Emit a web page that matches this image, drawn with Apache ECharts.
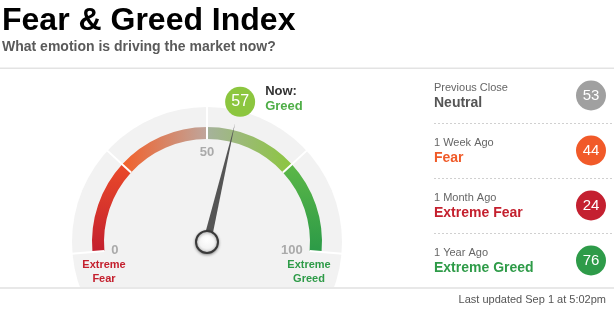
<!DOCTYPE html>
<html><head><meta charset="utf-8">
<script src="https://cdn.jsdelivr.net/npm/echarts@6/dist/echarts.min.js"></script>
<style>html,body{margin:0;padding:0;background:#fff}#c{width:614px;height:309px}</style>
</head><body><div id="c"></div>
<script>
// ---- data ----
const nowValue = 57;
const nowRating = 'Greed';
const gaugeTicks = [0, 50, 100];
const histPeriods = ['Previous Close', '1 Week Ago', '1 Month Ago', '1 Year Ago'];
const histValues = [53, 44, 24, 76];
const histRatings = ['Neutral', 'Fear', 'Extreme Fear', 'Extreme Greed'];
const titleText = 'Fear & Greed Index';
const subtitleText = 'What emotion is driving the market now?';
const updatedText = 'Last updated Sep 1 at 5:02pm';

// ---- styles ----
const FONT = '"Liberation Sans", Arial, Helvetica, sans-serif';
const ratingColors = {'Extreme Fear':'#c4202e','Fear':'#f05a28','Neutral':'#555555','Greed':'#4fae47','Extreme Greed':'#2e9b48'};
const bubbleColors = {'Extreme Fear':'#c42030','Fear':'#f15a29','Neutral':'#a0a0a0','Greed':'#8cc63f','Extreme Greed':'#2e9b49'};
const richKeys = {'Extreme Fear':'xf','Fear':'f','Neutral':'n','Greed':'g','Extreme Greed':'xg'};
const CX = 207, CY = 242;

function lg(x, y, x2, y2, c0, c1) {
  return {type:'linear', x:x, y:y, x2:x2, y2:y2, colorStops:[{offset:0,color:c0},{offset:1,color:c1}]};
}

const labelRich = {a:{fontSize:11, color:'#666', fontFamily:FONT, lineHeight:15}};
Object.keys(richKeys).forEach(k => {
  labelRich[richKeys[k]] = {fontSize:14, fontWeight:'bold', color:ratingColors[k], fontFamily:FONT, lineHeight:16};
});

const chart = echarts.init(document.getElementById('c'));
chart.setOption({
  animation:false,
  backgroundColor:'#fff',
  polar:{center:[CX, CY], radius:144},
  angleAxis:{type:'value', min:0, max:100, startAngle:185, endAngle:-5, show:false},
  radiusAxis:{type:'value', min:0, max:1, show:false},
  grid:{left:434, right:0, top:68, bottom:21},
  xAxis:{type:'value', min:0, max:1, show:false},
  yAxis:{
    type:'category', inverse:true, data:histPeriods,
    axisLine:{show:false}, axisTick:{show:false},
    splitLine:{show:true, interval:0, lineStyle:{color:'#d0d0d0', type:[2,2], width:1}},
    axisLabel:{
      inside:true, margin:0, interval:0,
      formatter:(v, i) => '{a|' + v + '}\n{' + richKeys[histRatings[i]] + '|' + histRatings[i] + '}',
      rich:labelRich
    }
  },
  series:[
    {
      type:'pie', center:[CX, CY], radius:[0, 135], silent:true, z:1,
      label:{show:false}, labelLine:{show:false},
      itemStyle:{color:'#f2f2f2'},
      data:[{value:1}]
    },
    {
      type:'gauge', center:[CX, CY], radius:115, startAngle:185, endAngle:-5,
      min:0, max:100, splitNumber:4, z:3,
      axisLine:{lineStyle:{width:12, color:[
        [0.25, lg(0,1,0,0,'#c31f2e','#ea4a2a')],
        [0.5,  lg(0,0,1,0,'#f2602a','#bfa69c')],
        [0.75, lg(0,0,1,0,'#a6b29c','#8cc63f')],
        [1,    lg(0,0,0,1,'#5cb748','#2b9a47')]
      ]}},
      splitLine:{show:true, distance:-33, length:33, lineStyle:{color:'#ffffff', width:2}},
      axisTick:{show:false},
      axisLabel:{
        show:true, distance:19, color:'#aaaaaa', fontSize:13, fontWeight:'bold', fontFamily:FONT,
        formatter:v => gaugeTicks.indexOf(v) >= 0 ? String(v) : ''
      },
      pointer:{show:true, length:122, width:4, itemStyle:{color:'#555555'}},
      anchor:{show:true, showAbove:true, size:22, itemStyle:{
        color:{type:'radial', x:0.5, y:0.4, r:0.6, colorStops:[{offset:0,color:'#ffffff'},{offset:0.6,color:'#f4f4f4'},{offset:1,color:'#c8c8c8'}]},
        borderColor:'#3a3a3a', borderWidth:2,
        shadowBlur:3, shadowColor:'rgba(0,0,0,0.35)', shadowOffsetY:1
      }},
      title:{show:false}, detail:{show:false},
      data:[{value:nowValue}]
    },
    {
      type:'scatter', coordinateSystem:'polar', symbolSize:30, z:5,
      itemStyle:{color:bubbleColors[nowRating], opacity:1},
      label:{show:true, position:'inside', formatter:p => String(p.value[1]), color:'#fff', fontSize:16, fontFamily:FONT},
      data:[[1, nowValue]]
    },
    {
      type:'scatter', coordinateSystem:'polar', symbolSize:30, z:5,
      itemStyle:{color:'rgba(0,0,0,0)', opacity:1},
      label:{show:true, position:'right', distance:10, offset:[0,-3],
        formatter:'{a|Now:}\n{b|' + nowRating + '}',
        rich:{
          a:{fontSize:13, fontWeight:'bold', color:'#333', fontFamily:FONT, lineHeight:15},
          b:{fontSize:13, fontWeight:'bold', color:ratingColors[nowRating], fontFamily:FONT, lineHeight:15}
        }},
      data:[[1, nowValue]]
    },
    {
      type:'scatter', symbolSize:30, symbolOffset:[-23, 0], clip:false, z:5,
      itemStyle:{opacity:1},
      data:histValues.map((v, i) => ({value:[1, histPeriods[i], v], itemStyle:{color:bubbleColors[histRatings[i]], opacity:1}})),
      label:{show:true, position:'inside', formatter:p => String(p.value[2]), color:'#fff', fontSize:15, fontFamily:FONT}
    }
  ],
  graphic:[
    {type:'rect', z:100, shape:{x:0, y:289, width:614, height:20}, style:{fill:'#ffffff'}},
    {type:'rect', z:101, shape:{x:0, y:287, width:614, height:2}, style:{fill:'#e8e8e8'}},
    {type:'rect', z:101, shape:{x:0, y:67.5, width:614, height:1.5}, style:{fill:'#e3e3e3'}},
    {type:'text', z:101, style:{x:2, y:21, text:titleText, font:'bold 32px ' + FONT, fill:'#000', verticalAlign:'middle'}},
    {type:'text', z:101, style:{x:2, y:47, text:subtitleText, font:'bold 14px ' + FONT, fill:'#5a5a5a', verticalAlign:'middle'}},
    {type:'text', z:101, style:{x:104, y:272, text:'Extreme\nFear', font:'bold 11px ' + FONT, fill:ratingColors['Extreme Fear'], align:'center', verticalAlign:'middle', lineHeight:14}},
    {type:'text', z:101, style:{x:309, y:272, text:'Extreme\nGreed', font:'bold 11px ' + FONT, fill:ratingColors['Extreme Greed'], align:'center', verticalAlign:'middle', lineHeight:14}},
    {type:'text', z:101, style:{x:606, y:300, text:updatedText, font:'11px ' + FONT, fill:'#555', align:'right', verticalAlign:'middle'}}
  ]
});
</script>
</body></html>
